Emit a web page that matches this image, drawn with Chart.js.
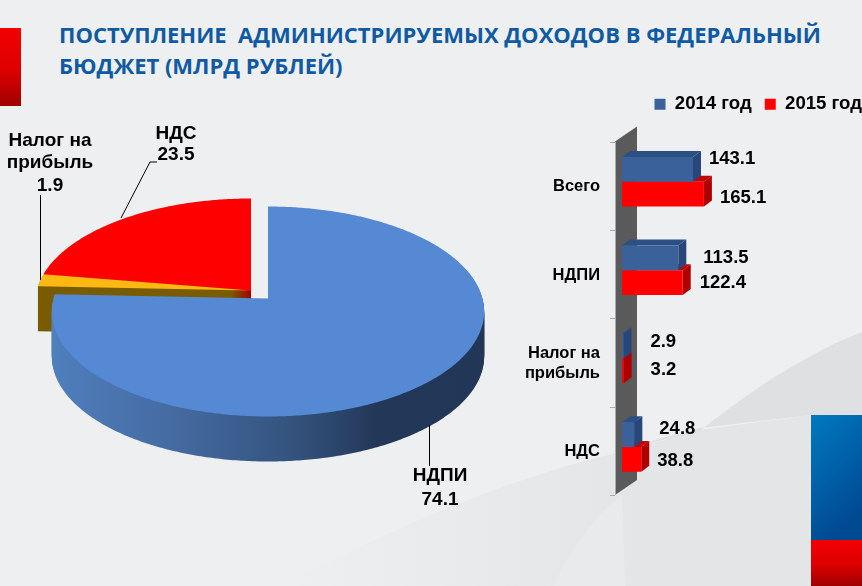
<!DOCTYPE html>
<html lang="ru"><head><meta charset="utf-8">
<script src="https://cdn.jsdelivr.net/npm/chart.js@4"></script>
<style>
html,body{margin:0;padding:0;width:862px;height:586px;overflow:hidden;background:#edeff1}
#bg{position:absolute;left:0;top:0}
canvas{position:absolute}
#pie{left:0;top:84px}
#bars{left:480px;top:82px}
.t{position:absolute;left:59px;white-space:pre;font:700 22px "Open Sans",sans-serif;color:#0f5aa3;line-height:30px}
</style></head><body>
<svg id="bg" width="862" height="586" xmlns="http://www.w3.org/2000/svg">
<defs>
<linearGradient id="r1" x1="0" y1="0" x2="0" y2="1"><stop offset="0" stop-color="#f20000"/><stop offset=".55" stop-color="#dd0000"/><stop offset="1" stop-color="#a00000"/></linearGradient>
<linearGradient id="b1" x1="0" y1="0" x2="0.4" y2="1"><stop offset="0" stop-color="#0079c1"/><stop offset="1" stop-color="#004a92"/></linearGradient>
<linearGradient id="g1" gradientUnits="userSpaceOnUse" x1="280" y1="0" x2="640" y2="0"><stop offset="0" stop-color="#edeff1"/><stop offset="1" stop-color="#e4e5e7"/></linearGradient>
</defs>
<path d="M280,586 C390,530 500,480 620,452 L700,430 L811,415 L862,415 L862,586 Z" fill="url(#g1)"/>
<path d="M600,455 L700,431 C750,390 810,352 862,332 L862,415 L811,415 L700,428 Z" fill="#dfe0e2"/>
<path d="M553,586 C570,550 595,515 622,495 L625,586 Z" fill="#e9eaec"/>
<rect x="0" y="28" width="21" height="78" fill="url(#r1)"/>
<rect x="811" y="415" width="51" height="125" fill="url(#b1)"/>
<rect x="811" y="540" width="51" height="46" fill="url(#r1)"/>
</svg>
<div class="t" style="top:19px">ПОСТУПЛЕНИЕ  АДМИНИСТРИРУЕМЫХ ДОХОДОВ В ФЕДЕРАЛЬНЫЙ</div>
<div class="t" style="top:50px">БЮДЖЕТ (МЛРД РУБЛЕЙ)</div>
<canvas id="pie" width="536" height="429"></canvas>
<canvas id="bars" width="395" height="433"></canvas>
<script>
// ---- pie data ----
const pieLabels = ["НДПИ", "Налог на прибыль", "НДС"];
const pieValues = [74.1, 1.9, 23.5];
// ---- bar data ----
const barCategories = ["Всего", "НДПИ", ["Налог на", "прибыль"], "НДС"];
const seriesNames = ["2014 год", "2015 год"];
const values2014 = [143.1, 113.5, 2.9, 24.8];
const values2015 = [165.1, 122.4, 3.2, 38.8];

const FONT = '"Liberation Sans", Arial, sans-serif';

// Perspective projection of the flat pie disc
const P = 0.1238, K = 0.482, DEPTH = 45;
function wedgePath(ctx, arc, dx, dy) {
  const p = arc.getProps(['x','y','startAngle','endAngle','outerRadius']);
  const pt = a0 => {
    const c0 = Math.cos(a0), a = a0 + (c0 < 0 ? 0.075*c0*c0 : 0);
    const s = Math.sin(a), w = 1/(1-P*s);
    return [p.x + p.outerRadius*Math.cos(a)*w + dx, p.y + p.outerRadius*K*s*w + dy];
  };
  ctx.beginPath();
  ctx.moveTo(p.x+dx, p.y+dy);
  const n = Math.max(4, Math.ceil((p.endAngle-p.startAngle)*90));
  for (let i=0;i<=n;i++){ const q = pt(p.startAngle+(p.endAngle-p.startAngle)*i/n); ctx.lineTo(q[0],q[1]); }
  ctx.closePath();
}
const pie3d = {
  id:'pie3d',
  beforeDatasetsDraw(chart){
    const ctx = chart.ctx, arcs = chart.getDatasetMeta(0).data;
    const shift = [[0,0],[-17,-8],[-17,-8]];
    const g = ctx.createLinearGradient(52,0,485,0);
    g.addColorStop(0,'#4f7fbd'); g.addColorStop(.3,'#44699f'); g.addColorStop(.55,'#34547f');
    g.addColorStop(.75,'#233859'); g.addColorStop(1,'#223657');
    ctx.save();
    for (const i of [2,1]) {
      ctx.fillStyle = i===1 ? '#7a5c00' : '#a00000';
      for (let d=DEPTH;d>=1;d--){ wedgePath(ctx,arcs[i],shift[i][0],shift[i][1]+d); ctx.fill(); }
    }
    for (const i of [2,1]) {
      ctx.fillStyle = chart.data.datasets[0].backgroundColor[i];
      wedgePath(ctx,arcs[i],shift[i][0],shift[i][1]); ctx.fill();
    }
    ctx.fillStyle = g;
    for (let d=DEPTH;d>=1;d--){ wedgePath(ctx,arcs[0],0,d); ctx.fill(); }
    ctx.fillStyle = chart.data.datasets[0].backgroundColor[0];
    wedgePath(ctx,arcs[0],0,0); ctx.fill();
    ctx.restore();
    return false;
  },
  afterDraw(chart){
    const ctx = chart.ctx, off = -84; // canvas top in page
    ctx.save();
    ctx.strokeStyle='#000'; ctx.lineWidth=1;
    const lines=[[[40.5,195],[40.5,280]],[[157,162],[150,162],[121,218]],[[429.5,425],[429.5,466]]];
    lines.forEach(l=>{ctx.beginPath();l.forEach((q,i)=>i?ctx.lineTo(q[0],q[1]+off):ctx.moveTo(q[0],q[1]+off));ctx.stroke();});
    ctx.fillStyle='#000'; ctx.textAlign='center'; ctx.textBaseline='middle';
    ctx.font='bold 19px '+FONT;
    const v = chart.data.datasets[0].data, n = chart.data.labels;
    const words = n[1].split(' ');
    [[words[0]+' '+words[1],50,141],[words[2],50,163],[v[1].toFixed(1),50,186],
     [n[2],176,134],[v[2].toFixed(1),176,155],[n[0],440,476],[v[0].toFixed(1),440,500]]
      .forEach(t=>ctx.fillText(t[0],t[1],t[2]+off));
    ctx.restore();
  }
};
new Chart(document.getElementById('pie'),{
  type:'pie',
  data:{labels:pieLabels,datasets:[{data:pieValues,backgroundColor:['#5589d3','#fdb813','#ff0000'],borderWidth:0}]},
  options:{responsive:false,animation:false,layout:{padding:0},plugins:{legend:{display:false},tooltip:{enabled:false}}},
  plugins:[pie3d]
});

// ---- bars ----
const DX = 8, DY = 6;
const bar3d = {
  id:'bar3d',
  beforeInit(chart){
    const f = chart.legend.fit;
    chart.legend.fit = function(){ f.call(this); this.height += 14; };
  },
  beforeDatasetsDraw(chart){
    const ctx = chart.ctx, a = chart.chartArea, y = chart.scales.y;
    const step = y.getPixelForValue(1)-y.getPixelForValue(0);
    const L = a.left-7, T = a.top+4, B = T+step*4;
    ctx.save();
    ctx.fillStyle='#5a5a5a';
    ctx.beginPath();ctx.moveTo(L,T);ctx.lineTo(L+22,T-15);ctx.lineTo(L+22,B-15);ctx.lineTo(L,B);ctx.closePath();ctx.fill();
    ctx.strokeStyle='#a9abad';ctx.lineWidth=1;
    ctx.beginPath();ctx.moveTo(L+.5,T);ctx.lineTo(L+.5,B);
    for(let i=0;i<=4;i++){ctx.moveTo(L-5,Math.round(T+step*i)+.5);ctx.lineTo(L,Math.round(T+step*i)+.5);}
    ctx.stroke();
    const poly=(c,pts)=>{ctx.fillStyle=c;ctx.beginPath();pts.forEach((p,i)=>i?ctx.lineTo(p[0],p[1]):ctx.moveTo(p[0],p[1]));ctx.closePath();ctx.fill();};
    [[1,'#c40000','#ae0000'],[0,'#2d5084','#27467a']].forEach(([ds,top,side])=>{
      chart.getDatasetMeta(ds).data.forEach(b=>{
        const x0=b.base,x1=b.x,y0=b.y-b.height/2,y1=b.y+b.height/2;
        poly(top,[[x0,y0],[x1,y0],[x1+DX,y0-DY],[x0+DX,y0-DY]]);
        poly(side,[[x1,y0],[x1+DX,y0-DY],[x1+DX,y1-DY],[x1,y1]]);
      });
    });
    ctx.restore();
  },
  afterDatasetsDraw(chart){
    const ctx = chart.ctx;
    ctx.save();
    ctx.fillStyle='#000';ctx.font='bold 18.5px '+FONT;ctx.textAlign='left';ctx.textBaseline='middle';
    const nudge=[[[8,-11],[8,4]],[[17,0],[9,0]],[[19,-4],[19,-1]],[[17,-6],[8,2]]];
    [0,1].forEach(ds=>chart.getDatasetMeta(ds).data.forEach((b,i)=>{
      const n=nudge[i][ds];
      ctx.fillText(chart.data.datasets[ds].data[i].toFixed(1),b.x+DX+n[0],b.y+n[1]);
    }));
    ctx.restore();
  }
};
new Chart(document.getElementById('bars'),{
  type:'bar',
  data:{labels:barCategories,datasets:[
    {label:seriesNames[0],data:values2014,backgroundColor:'#3a6199',categoryPercentage:.56,barPercentage:1},
    {label:seriesNames[1],data:values2015,backgroundColor:'#ff0000',categoryPercentage:.56,barPercentage:1}
  ]},
  options:{
    indexAxis:'y',responsive:false,animation:false,
    layout:{padding:0},
    scales:{
      x:{display:false,min:0,max:510},
      y:{position:'left',afterFit(s){s.width=142;},border:{display:false},grid:{display:false},
         ticks:{color:'#000',font:{family:FONT,size:16.5,weight:'bold'},padding:14,labelOffset:5}}
    },
    plugins:{
      tooltip:{enabled:false},
      legend:{position:'top',align:'end',labels:{boxWidth:11,boxHeight:11,padding:13,color:'#000',font:{family:FONT,size:18.6,weight:'bold'}}}
    }
  },
  plugins:[bar3d]
});
</script>
</body></html>
